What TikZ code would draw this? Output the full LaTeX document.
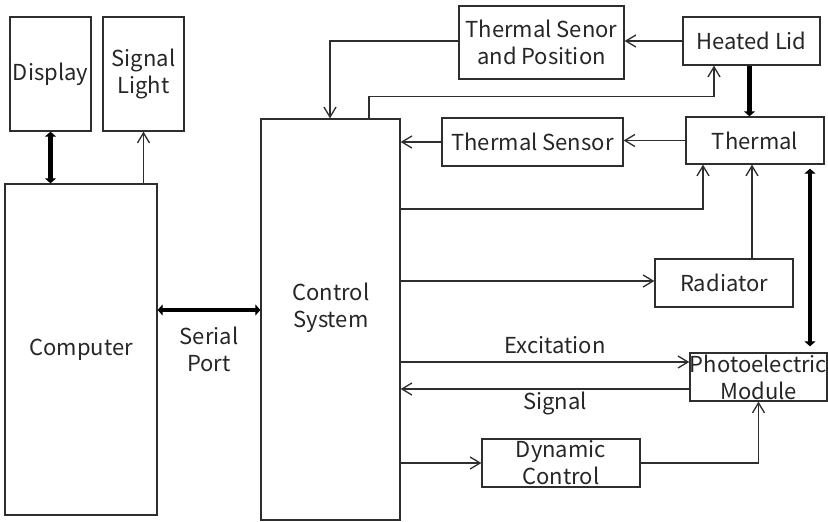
\documentclass[tikz,border=0pt]{standalone}
\usepackage{fontspec}
\setmainfont{Noto Sans CJK SC}
\usetikzlibrary{arrows.meta,calc}
\definecolor{ln}{HTML}{2E2E2E}
\definecolor{tx}{HTML}{262626}
\begin{document}
\begin{tikzpicture}[x=1pt,y=-1pt,
  box/.style={draw=ln,line width=1.3pt,rectangle,inner sep=0pt,align=center,text=tx,font=\fontsize{22}{27}\selectfont},
  lbl/.style={text=tx,align=center,font=\fontsize{22}{27}\selectfont,inner sep=0pt},
  arr/.style={draw=ln,line width=1.3pt,-{Straight Barb[length=10pt,width=12pt]}},
  dbl/.style={draw=black,line width=4.5pt,{Triangle[length=5pt,width=11pt]}-{Triangle[length=5pt,width=11pt]}},
  one/.style={draw=black,line width=4.5pt,-{Triangle[length=5pt,width=11pt]}}]
\useasboundingbox (0,0) rectangle (828,522);
\node[box,minimum width=81,minimum height=114] (disp) at (50.5,74) {Display};
\node[box,minimum width=81,minimum height=114] (sig) at (143.5,74) {Signal\\Light};
\node[box,minimum width=152,minimum height=331] (comp) at (81,349.5) {Computer};
\node[box,minimum width=139,minimum height=401] (ctrl) at (330.5,319.5) {};
\node[lbl] (ctrltxt) at (331,308) {Control\\System};
\node[box,minimum width=165,minimum height=73] (tsp) at (541.5,42.5) {Thermal Senor\\and Position};
\node[box,minimum width=137,minimum height=48] (hl) at (751.5,41) {Heated Lid};
\node[box,minimum width=138,minimum height=47] (th) at (755,140.5) {Thermal};
\node[box,minimum width=181,minimum height=48] (ts) at (532.5,142) {Thermal Sensor};
\node[box,minimum width=138,minimum height=48] (rad) at (724,283) {Radiator};
\node[box,minimum width=137,minimum height=48] (pe) at (758.5,377) {Photoelectric\\Module};
\node[box,minimum width=158,minimum height=48] (dyn) at (561,463) {Dynamic\\Control};
\node[lbl] (sp) at (209,349) {Serial\\Port};
\node[lbl] (exc) at (555,345) {Excitation};
\node[lbl] (sgl) at (555,403) {Signal};
% left side
\draw[dbl] (disp.south) -- (disp.south |- comp.north);
\draw[arr] (sig.south |- comp.north) -- (sig.south);
\coordinate (sp1) at ($(comp.east)+(0,-39.5)$);
\draw[dbl] (sp1) -- (sp1 -| ctrl.west);
% top
\draw[arr] (hl.west) -- (hl.west -| tsp.east);
\draw[arr] ($(tsp.west)+(0,-1.5)$) -| ([xshift=-0.5pt]ctrl.north);
\draw[arr] ([xshift=38.5pt]ctrl.north) -- ++(0,-22) -| ([xshift=-37.5pt]hl.south);
\draw[one] ([xshift=-2pt]hl.south) -- ([xshift=-2pt]hl.south |- th.north);
\draw[arr] (th.west) -- (th.west -| ts.east);
\draw[arr] (ts.west) -- (ts.west -| ctrl.east);
\coordinate (c1) at ($(ctrl.east)+(0,-110.5)$);
\draw[arr] (c1) -| ([xshift=-52pt]th.south);
\draw[arr] ([xshift=28pt]rad.north) -- ([xshift=28pt]rad.north |- th.south);
\coordinate (r1) at ($(rad.west)+(0,-2)$);
\draw[arr] (r1 -| ctrl.east) -- (r1);
\coordinate (tp) at ([xshift=55pt]th.south);
\draw[dbl] ($(tp)+(0,4)$) -- ($(tp |- pe.north)+(0,-6)$);
% bottom
\coordinate (ex) at ($(pe.west)+(0,-15)$);
\draw[arr] (ex -| ctrl.east) -- (ex);
\coordinate (sg) at ($(pe.west)+(0,12)$);
\draw[arr] (sg) -- (sg -| ctrl.east);
\draw[arr] (dyn.west -| ctrl.east) -- (dyn.west);
\draw[arr] (dyn.east) -| (pe.south);
\end{tikzpicture}
\end{document}
